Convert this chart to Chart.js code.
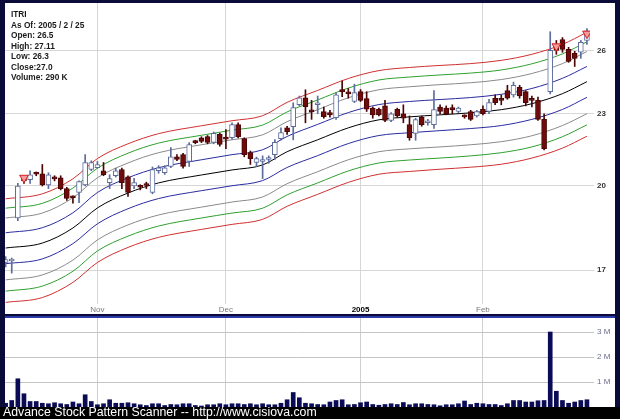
<!DOCTYPE html>
<html>
<head>
<meta charset="utf-8">
<script src="https://cdn.jsdelivr.net/npm/chart.js@4.4.1/dist/chart.umd.min.js"></script>
<style>
  body { margin: 0; width: 620px; height: 419px; background: #000; position: relative; overflow: hidden;
         font-family: "Liberation Sans", Arial, sans-serif; }
  #frame { position: absolute; left: 0; top: 0; width: 620px; height: 407px; background: #0b0b3a; }
  #price { position: absolute; left: 5px; top: 3px; background: #fff; }
  #sep { position: absolute; left: 5px; top: 316px; width: 610px; height: 2px; background: #2a3aa8; }
  #volume { position: absolute; left: 5px; top: 318px; background: #fff; }
  #footer { position: absolute; left: 3px; top: 405px; color: #fff; font-size: 12.3px; white-space: nowrap; }
</style>
</head>
<body>
<div id="frame"></div>
<canvas id="price" width="610" height="311"></canvas>
<div id="sep"></div>
<canvas id="volume" width="610" height="89"></canvas>
<div id="footer">Advance Stock Pattern Scanner -- http://www.cisiova.com</div>
<script>
// daily bars, index 0 = 2004/10/11 ... index 95 = 2005/2/25
const opens = [17.25,17.3,18.8,20.25,20.25,20.5,20.48,20.04,20.3,20.32,
  19.9,19.58,19.75,20.04,20.65,20.72,20.6,20.13,20.4,20.65,
  20.36,20.0,19.96,20.05,19.75,20.6,20.52,20.77,21.16,21.25,
  20.97,21.8,21.95,22.0,21.76,22.1,21.92,21.96,22.52,21.92,
  21.34,20.93,20.97,21.05,21.25,21.92,22.38,22.43,23.41,23.72,
  23.1,23.4,23.09,23.05,22.82,24.1,23.95,23.55,24.0,23.68,
  23.25,23.2,23.35,22.7,23.2,23.0,22.52,22.14,22.85,22.6,
  22.52,23.3,23.25,23.2,23.1,22.88,23.1,22.9,23.2,23.1,
  23.7,23.62,24.05,23.85,24.2,24.0,23.65,23.6,22.75,24.0,
  26.3,26.55,26.05,25.85,25.9,26.5];
const highs = [17.45,17.4,20.1,20.35,20.6,20.55,20.85,20.52,20.4,20.4,
  19.95,19.62,20.2,21.25,21.0,20.97,20.93,20.44,20.7,20.7,
  20.4,20.3,20.05,20.15,20.75,20.8,20.8,21.54,21.25,21.3,
  21.75,21.85,22.0,22.05,22.2,22.15,22.3,22.6,22.6,21.95,
  21.4,21.15,21.2,21.2,21.88,22.38,22.45,23.49,23.8,24.09,
  23.6,23.8,23.3,23.15,23.95,24.5,24.15,24.35,24.1,24.0,
  23.3,23.25,23.6,23.05,23.25,23.4,22.9,22.8,22.9,22.75,
  24.05,23.4,23.35,23.4,23.3,22.95,23.15,23.15,23.35,23.65,
  23.85,23.85,24.3,24.45,24.3,24.05,23.8,23.75,23.0,26.95,
  26.5,26.65,26.15,25.95,26.5,27.11];
const lows = [17.1,16.9,18.7,20.1,20.1,20.4,20.0,19.9,20.2,19.85,
  19.45,19.35,19.37,20.0,20.6,20.7,20.4,19.9,20.35,19.9,
  19.6,19.9,19.85,19.9,19.7,20.5,20.45,20.72,21.0,20.7,
  20.77,21.7,21.75,21.7,21.7,21.6,21.5,21.9,21.95,21.16,
  20.85,20.77,20.29,20.9,21.05,21.85,22.1,21.87,23.35,22.6,
  22.75,23.0,22.8,22.85,22.75,23.77,23.7,23.5,23.55,23.1,
  22.8,22.9,22.65,22.65,22.85,22.6,21.85,21.85,22.45,22.5,
  22.35,23.0,22.95,23.0,23.05,22.8,22.7,22.85,22.95,23.0,
  23.4,23.4,23.65,23.75,23.7,23.35,23.3,22.7,21.45,23.9,
  25.8,25.9,25.4,25.2,25.6,26.3];
const closes = [17.35,17.32,20.0,20.2,20.44,20.46,20.04,20.44,20.28,19.9,
  19.53,19.55,20.17,20.93,20.93,20.85,20.44,20.29,20.6,20.13,
  19.75,20.13,19.95,20.02,20.65,20.72,20.72,21.16,21.05,20.77,
  21.67,21.75,21.8,21.76,22.14,21.67,21.9,22.52,22.0,21.25,
  21.09,21.09,21.05,21.06,21.76,22.18,22.21,23.27,23.72,23.32,
  23.08,23.42,22.87,22.95,23.86,24.0,23.9,23.96,23.6,23.2,
  22.95,22.95,22.7,23.0,22.9,22.8,21.96,22.74,22.52,22.62,
  23.19,23.1,23.0,23.18,23.25,22.86,22.75,23.1,23.0,23.5,
  23.5,23.6,23.7,24.3,23.8,23.5,23.6,22.75,21.5,26.0,
  26.0,26.05,25.45,25.6,26.4,27.0];
// volume in thousands of shares
const volumesK = [150,260,1130,530,220,220,150,130,170,130,
  100,200,130,490,220,90,130,290,150,150,
  170,130,90,60,130,130,60,100,90,130,
  130,60,40,90,90,130,90,130,130,100,
  130,90,130,90,90,150,290,580,370,150,
  130,100,90,200,260,290,90,100,170,200,
  100,70,100,130,100,180,90,130,130,100,
  90,50,90,90,130,240,100,150,130,100,
  100,60,130,260,260,200,200,250,260,3000,
  630,260,150,200,260,290];

// moving average and envelope bands, read at these bar positions
const bandIdx = [0,6,11,15,20,25,32,37,42,46,51,56,61,66,71,76,81,86,91,95];
const centerLine = [17.74,17.91,18.44,19.17,19.73,20.12,20.43,20.63,20.83,21.37,21.87,22.38,22.73,22.86,22.95,23.04,23.18,23.45,23.91,24.47];
const blueUpper  = [18.27,18.45,18.99,19.75,20.32,20.72,21.04,21.25,21.45,22.01,22.53,23.05,23.41,23.55,23.64,23.73,23.88,24.15,24.63,25.20];
const blueLower  = [17.21,17.37,17.89,18.59,19.14,19.52,19.82,20.01,20.21,20.73,21.21,21.71,22.05,22.17,22.26,22.35,22.48,22.75,23.19,23.74];
const grayUpper  = [18.80,18.98,19.55,20.32,20.91,21.33,21.66,21.87,22.08,22.65,23.18,23.72,24.09,24.23,24.33,24.42,24.57,24.86,25.34,25.94];
const grayLower  = [16.68,16.84,17.33,18.02,18.55,18.91,19.20,19.39,19.58,20.09,20.56,21.04,21.37,21.49,21.57,21.66,21.79,22.04,22.48,23.00];
const greenUpper = [19.16,19.34,19.92,20.70,21.31,21.73,22.06,22.28,22.50,23.08,23.62,24.17,24.55,24.69,24.79,24.88,25.03,25.33,25.82,26.43];
const greenLower = [16.32,16.48,16.96,17.64,18.15,18.51,18.80,18.98,19.16,19.66,20.12,20.59,20.91,21.03,21.11,21.20,21.33,21.57,22.00,22.51];
const redUpper   = [19.51,19.70,20.28,21.09,21.70,22.13,22.47,22.69,22.91,23.51,24.06,24.62,25.00,25.15,25.25,25.34,25.50,25.80,26.30,26.92];
const redLower   = [15.97,16.12,16.60,17.25,17.76,18.11,18.39,18.57,18.75,19.23,19.68,20.14,20.46,20.57,20.66,20.74,20.86,21.11,21.52,22.02];

// pattern markers
const markerIdx = [3, 90, 95];
const markerPrice = [20.32, 26.2, 26.85];

const monthTicks = [15, 36, 58, 78];
const monthLabels = ['Nov', 'Dec', '2005', 'Feb'];
const priceTicks = [17, 20, 23, 26];
const volumeTicks = [1000, 2000, 3000];

const ticker = 'ITRI';
const infoLines = [ticker, 'As Of: 2005 / 2 / 25', 'Open: 26.5', 'High: 27.11', 'Low: 26.3', 'Close:27.0', 'Volume: 290 K'];

const FONT = '"Liberation Sans", Arial, sans-serif';
const X_MIN = -0.1, X_MAX = 95.5;

const idx = closes.map((_, i) => i);
const isUp = closes.map((c, i) => c >= opens[i]);
const upEdge = '#5d6c9c', downFill = '#6e0b0b', downEdge = '#4a0505';

function band(values, color) {
  return {
    type: 'line',
    data: bandIdx.map((x, k) => ({ x: x, y: values[k] })),
    borderColor: color, borderWidth: 1, pointRadius: 0,
    cubicInterpolationMode: 'monotone', order: 3
  };
}

const infoPlugin = {
  id: 'info',
  afterDraw(chart) {
    const ctx = chart.ctx;
    ctx.save();
    ctx.fillStyle = '#1a1a1a';
    ctx.font = 'bold 8.3px ' + FONT;
    infoLines.forEach((t, k) => ctx.fillText(t, 6, 14 + k * 10.5));
    ctx.restore();
  }
};

new Chart(document.getElementById('price'), {
  type: 'bar',
  data: {
    datasets: [
      band(redUpper, '#d03030'), band(greenUpper, '#2f9f2f'), band(grayUpper, '#8a8a8a'), band(blueUpper, '#2b2ba0'),
      band(centerLine, '#000000'),
      band(blueLower, '#2b2ba0'), band(grayLower, '#8a8a8a'), band(greenLower, '#2f9f2f'), band(redLower, '#d03030'),
      {
        type: 'bar',
        data: idx.map(i => ({ x: i, y: [lows[i], highs[i]] })),
        backgroundColor: isUp.map(u => u ? upEdge : downEdge),
        barThickness: 1, grouped: false, order: 2
      },
      {
        type: 'bar',
        data: idx.map(i => ({ x: i, y: [Math.min(opens[i], closes[i]), Math.max(opens[i], closes[i])] })),
        backgroundColor: isUp.map(u => u ? '#ffffff' : downFill),
        borderColor: isUp.map(u => u ? upEdge : downEdge),
        borderWidth: 1, borderSkipped: false, minBarLength: 2,
        barThickness: 5, grouped: false, order: 1
      },
      {
        type: 'line',
        data: markerIdx.map((x, k) => ({ x: x, y: markerPrice[k] })),
        showLine: false, pointStyle: 'triangle', rotation: 180, pointRadius: 5,
        pointBackgroundColor: '#f39b9b', pointBorderColor: '#d42020', pointBorderWidth: 1, order: 0
      }
    ]
  },
  options: {
    responsive: false, animation: false, events: [],
    layout: { padding: 0, autoPadding: false },
    plugins: { legend: { display: false }, tooltip: { enabled: false } },
    scales: {
      x: {
        type: 'linear', min: X_MIN, max: X_MAX, offset: false,
        grid: { color: '#d6d6d6', drawTicks: false, offset: false },
        border: { display: false },
        ticks: {
          padding: 1, maxRotation: 0, autoSkip: false,
          callback: v => monthLabels[monthTicks.indexOf(v)] || '',
          font: ctx => ({ family: FONT, size: 8, weight: monthLabels[ctx.index] === '2005' ? 'bold' : 'normal' }),
          color: ctx => monthLabels[ctx.index] === '2005' ? '#000' : '#777'
        },
        afterBuildTicks: s => { s.ticks = monthTicks.map(v => ({ value: v })); },
        afterFit: s => { s.height = 10; s.paddingLeft = 0; s.paddingRight = 0; }
      },
      y: {
        type: 'logarithmic', position: 'right', min: 15.92, max: 28.49,
        grid: { color: '#d6d6d6', tickLength: 4 },
        border: { display: false },
        ticks: { padding: 3, color: '#333', font: { family: FONT, size: 8, weight: 'bold' }, callback: v => String(v) },
        afterBuildTicks: s => { s.ticks = priceTicks.map(v => ({ value: v })); },
        afterFit: s => { s.width = 25; s.paddingTop = 0; s.paddingBottom = 0; }
      }
    }
  },
  plugins: [infoPlugin]
});

new Chart(document.getElementById('volume'), {
  type: 'bar',
  data: {
    datasets: [{
      data: idx.map(i => ({ x: i, y: volumesK[i] })),
      backgroundColor: '#0a0a55', barThickness: 4
    }]
  },
  options: {
    responsive: false, animation: false, events: [],
    layout: { padding: 0, autoPadding: false },
    plugins: { legend: { display: false }, tooltip: { enabled: false } },
    scales: {
      x: {
        type: 'linear', min: X_MIN, max: X_MAX, offset: false,
        grid: { color: '#cfcfcf', drawTicks: false, offset: false },
        border: { display: false },
        ticks: { display: false },
        afterBuildTicks: s => { s.ticks = monthTicks.map(v => ({ value: v })); },
        afterFit: s => { s.height = 0; s.paddingLeft = 0; s.paddingRight = 0; }
      },
      y: {
        position: 'right', min: 0, max: 3560,
        grid: { color: '#c4c4c4', tickLength: 4 },
        border: { display: false },
        ticks: { padding: 3, color: '#6a6a8a', font: { family: FONT, size: 8 }, callback: v => (v / 1000) + ' M' },
        afterBuildTicks: s => { s.ticks = volumeTicks.map(v => ({ value: v })); },
        afterFit: s => { s.width = 25; s.paddingTop = 0; s.paddingBottom = 0; }
      }
    }
  }
});
</script>
</body>
</html>
